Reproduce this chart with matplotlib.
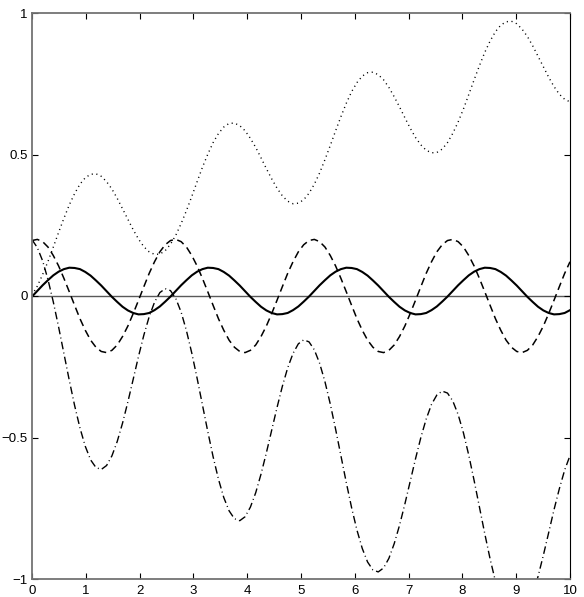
import numpy as np
import matplotlib
matplotlib.use('Agg')
import matplotlib.pyplot as plt

# sample grid, values
x = np.linspace(0, 10, 102)

solid = [-0.002, 0.018, 0.038, 0.056, 0.073, 0.086, 0.095, 0.100, 0.099, 0.095, 0.085, 0.072, 0.055,
         0.037, 0.017, -0.003, -0.021, -0.038, -0.051, -0.060, -0.065, -0.064, -0.060, -0.050, -0.037, -0.020,
         -0.002, 0.018, 0.038, 0.056, 0.073, 0.086, 0.095, 0.100, 0.099, 0.095, 0.085, 0.072, 0.055,
         0.037, 0.017, -0.003, -0.021, -0.038, -0.051, -0.060, -0.065, -0.064, -0.060, -0.050, -0.037, -0.020,
         -0.002, 0.018, 0.038, 0.056, 0.073, 0.086, 0.095, 0.100, 0.099, 0.095, 0.085, 0.072, 0.055,
         0.037, 0.017, -0.003, -0.021, -0.038, -0.051, -0.060, -0.065, -0.064, -0.060, -0.050, -0.037, -0.020,
         -0.002, 0.018, 0.038, 0.056, 0.073, 0.086, 0.095, 0.100, 0.099, 0.095, 0.085, 0.072, 0.055,
         0.037, 0.017, -0.003, -0.021, -0.038, -0.051, -0.060, -0.065, -0.064, -0.060, -0.050]

dashed = [0.196, 0.200, 0.192, 0.173, 0.143, 0.106, 0.062, 0.015, -0.033, -0.080, -0.121, -0.156, -0.181,
          -0.196, -0.200, -0.192, -0.173, -0.143, -0.106, -0.062, -0.015, 0.033, 0.080, 0.121, 0.156, 0.181,
          0.196, 0.200, 0.192, 0.173, 0.143, 0.106, 0.062, 0.015, -0.033, -0.080, -0.121, -0.156, -0.181,
          -0.196, -0.200, -0.192, -0.173, -0.143, -0.106, -0.062, -0.015, 0.033, 0.080, 0.121, 0.156, 0.181,
          0.196, 0.200, 0.192, 0.173, 0.143, 0.106, 0.062, 0.015, -0.033, -0.080, -0.121, -0.156, -0.181,
          -0.196, -0.200, -0.192, -0.173, -0.143, -0.106, -0.062, -0.015, 0.033, 0.080, 0.121, 0.156, 0.181,
          0.196, 0.200, 0.192, 0.173, 0.143, 0.106, 0.062, 0.015, -0.033, -0.080, -0.121, -0.156, -0.181,
          -0.196, -0.200, -0.192, -0.173, -0.143, -0.106, -0.062, -0.015, 0.033, 0.080, 0.121]

dashdot = [0.199, 0.171, 0.124, 0.058, -0.021, -0.110, -0.204, -0.298, -0.387, -0.466, -0.531, -0.579, -0.606,
           -0.613, -0.599, -0.565, -0.514, -0.449, -0.374, -0.294, -0.213, -0.138, -0.073, -0.022, 0.012, 0.026,
           0.019, -0.009, -0.057, -0.123, -0.202, -0.291, -0.385, -0.479, -0.568, -0.647, -0.712, -0.759, -0.787,
           -0.794, -0.780, -0.746, -0.695, -0.629, -0.554, -0.474, -0.394, -0.319, -0.254, -0.203, -0.169, -0.155,
           -0.162, -0.190, -0.238, -0.303, -0.382, -0.471, -0.565, -0.659, -0.748, -0.827, -0.892, -0.940, -0.968,
           -0.975, -0.961, -0.927, -0.875, -0.810, -0.735, -0.655, -0.575, -0.500, -0.435, -0.383, -0.350, -0.336,
           -0.343, -0.371, -0.419, -0.484, -0.563, -0.652, -0.746, -0.840, -0.929, -1.008, -1.073, -1.121, -1.149,
           -1.155, -1.141, -1.107, -1.056, -0.991, -0.916, -0.836, -0.755, -0.681, -0.615, -0.564]

dotted = [0.003, 0.035, 0.076, 0.122, 0.173, 0.225, 0.275, 0.322, 0.362, 0.395, 0.418, 0.430, 0.432,
          0.423, 0.404, 0.378, 0.345, 0.308, 0.271, 0.234, 0.201, 0.174, 0.156, 0.147, 0.148, 0.160,
          0.183, 0.215, 0.256, 0.302, 0.352, 0.404, 0.455, 0.501, 0.542, 0.574, 0.597, 0.610, 0.611,
          0.602, 0.584, 0.557, 0.525, 0.488, 0.450, 0.414, 0.381, 0.354, 0.335, 0.326, 0.328, 0.340,
          0.363, 0.395, 0.435, 0.482, 0.532, 0.584, 0.634, 0.681, 0.722, 0.754, 0.777, 0.789, 0.791,
          0.782, 0.764, 0.737, 0.704, 0.668, 0.630, 0.593, 0.560, 0.534, 0.515, 0.506, 0.507, 0.519,
          0.542, 0.575, 0.615, 0.661, 0.712, 0.764, 0.814, 0.861, 0.901, 0.934, 0.957, 0.969, 0.971,
          0.962, 0.943, 0.917, 0.884, 0.847, 0.810, 0.773, 0.740, 0.713, 0.695, 0.686]

xticks = list(range(0, 11))
yticks = [-1, -0.5, 0, 0.5, 1]
ylabels = ['\u22121', '\u22120.5', '0', '0.5', '1']

plt.rcParams['font.family'] = ['Liberation Sans', 'DejaVu Sans']

fig = plt.figure(figsize=(5.84, 5.97), dpi=100)
ax = fig.add_axes([32/584, 1 - 579/597, 538/584, 566/597])

ax.axhline(0, color='0.35', lw=1.0, zorder=1)
ax.plot(x, dotted, color='black', lw=1.0, ls=(0, (0.8, 2.6)))
ax.plot(x, dashdot, color='black', lw=1.0, ls=(0, (5.5, 2.4, 0.7, 2.4)))
ax.plot(x, dashed, color='black', lw=1.1, ls=(0, (5, 3)))
ax.plot(x, solid, color='black', lw=1.5)

ax.set_xlim(0, 10)
ax.set_ylim(-1, 1)
ax.set_xticks(xticks)
ax.set_xticklabels([str(t) for t in xticks])
ax.set_yticks(yticks)
ax.set_yticklabels(ylabels)
ax.tick_params(direction='in', length=4, width=0.8, top=True, right=True,
               labelsize=9.5, colors='black')
ax.tick_params(axis='x', pad=4)
ax.tick_params(axis='y', pad=3)

for side in ['left', 'top', 'bottom']:
    ax.spines[side].set_color('0.45')
    ax.spines[side].set_linewidth(1.3)
ax.spines['right'].set_color('black')
ax.spines['right'].set_linewidth(0.8)

fig.savefig('out.png', dpi=100)
